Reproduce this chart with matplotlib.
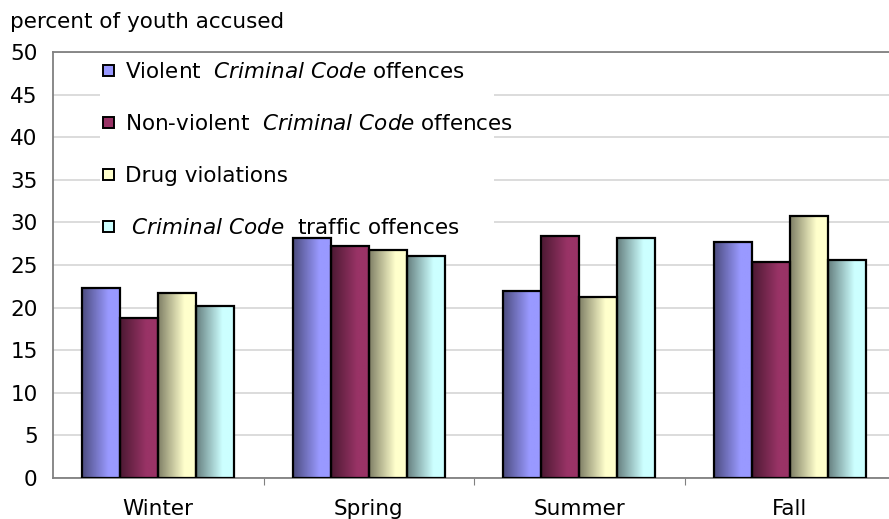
import numpy as np
import matplotlib
matplotlib.use("Agg")
import matplotlib.pyplot as plt  # noqa: E402
from matplotlib.patches import Rectangle  # noqa: E402
from matplotlib.colors import to_rgb  # noqa: E402

seasons = ["Winter", "Spring", "Summer", "Fall"]
labels = [
    r"Violent  $\it{Criminal\ Code}$ offences",
    r"Non-violent  $\it{Criminal\ Code}$ offences",
    "Drug violations",
    r" $\it{Criminal\ Code}$  traffic offences",
]
violent = [22.3, 28.2, 21.9, 27.7]
nonviolent = [18.8, 27.2, 28.4, 25.4]
drug = [21.7, 26.8, 21.2, 30.8]
traffic = [20.2, 26.1, 28.2, 25.6]
series = [violent, nonviolent, drug, traffic]
colors = ["#9999FF", "#993366", "#FFFFCC", "#CCFFFF"]

plt.rcParams["font.family"] = "DejaVu Sans"
plt.rcParams["mathtext.fontset"] = "dejavusans"
FS = 15.5
W, H = 889, 519

fig = plt.figure(figsize=(W / 100, H / 100), dpi=100)
# plot area runs a few pixels past the right edge, as in the original
ax = fig.add_axes([53 / W, 1 - 478 / H, (895 - 53) / W, (478 - 52) / H])


def px(x, y):
    # pixel (from top-left) -> figure fraction
    return x / W, 1 - y / H


def grad_img(col):
    # dark on the left, full colour from ~70% across
    c = np.array(to_rgb(col))
    dark = c * 0.5
    s = np.clip(np.linspace(0, 1, 64) / 0.7, 0, 1)
    row = dark[None, :] + (c - dark)[None, :] * s[:, None]
    return row[None, :, :]


w = 0.18
x = np.arange(len(seasons))
for k, (vals, col) in enumerate(zip(series, colors)):
    img = grad_img(col)
    for xi, v in zip(x, vals):
        left = xi + (k - 2) * w
        ax.imshow(img, extent=(left, left + w, 0, v), aspect="auto",
                  interpolation="bilinear", zorder=2)
        ax.add_patch(Rectangle((left, 0), w, v, fill=False, ec="black",
                               lw=1.6, zorder=3))

ax.set_xlim(-0.5, 3.5)
ax.set_ylim(0, 50)
ax.set_yticks(range(0, 51, 5))
ax.yaxis.grid(True, color="#D9D9D9", lw=1.3, zorder=0)
ax.set_axisbelow(True)
ax.tick_params(axis="y", length=0, labelsize=FS, pad=11)

ax.set_xticks([0.5, 1.5, 2.5])
ax.set_xticklabels([])
ax.set_xticks(x, minor=True)
ax.set_xticklabels(seasons, minor=True, fontsize=FS)
ax.tick_params(axis="x", which="major", length=5, color="#808080", direction="out")
ax.tick_params(axis="x", which="minor", length=0, pad=15)

for side in ["left", "bottom", "top"]:
    ax.spines[side].set_color("#808080")
    ax.spines[side].set_linewidth(1.3)
ax.spines["right"].set_visible(False)

# legend drawn by hand: white box hiding the gridlines, squares + labels
x0, y0 = px(100, 236)
x1, y1 = px(494, 53)
ax.add_patch(Rectangle((x0, y0), x1 - x0, y1 - y0, transform=fig.transFigure,
                       fc="white", ec="none", zorder=4))
for i, (lab, col) in enumerate(zip(labels, colors)):
    base = 78 + 52 * i
    sx, sy = px(103, base - 2)
    ax.add_patch(Rectangle((sx, sy), 11 / W, 11 / H, transform=fig.transFigure,
                           fc=col, ec="black", lw=1.4, zorder=5))
    tx, ty = px(125, base)
    ax.text(tx, ty, lab, transform=fig.transFigure, fontsize=FS,
            va="baseline", ha="left", zorder=6)

tx, ty = px(10, 28)
fig.text(tx, ty, "percent of youth accused", fontsize=FS, va="baseline", ha="left")

fig.savefig("out.png", dpi=100)
